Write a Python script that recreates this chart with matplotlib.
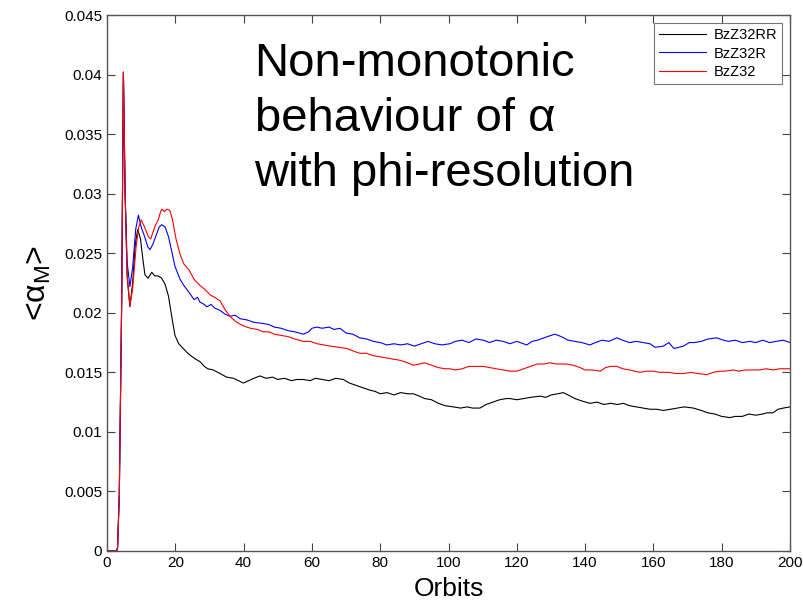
import matplotlib
matplotlib.use("Agg")
import matplotlib.pyplot as plt

plt.rcParams['font.family'] = ['Liberation Sans', 'DejaVu Sans']
plt.rcParams['mathtext.fontset'] = 'custom'
plt.rcParams['mathtext.rm'] = 'Liberation Sans'
plt.rcParams['mathtext.it'] = 'Liberation Sans'

# --- data (orbit, <alpha_M>) ---
rise_x = [0, 2.8, 3.1, 3.6, 4.3, 4.8, 5.3]
rise_y = [0, 0, 0.0003, 0.0048, 0.0211, 0.0402, 0.0300]

rr_x = [5.9, 6.7, 7.5, 8.3, 9.0, 9.8, 10.5, 11.1, 12.0, 13.1, 14.0, 15.0, 16.0, 17.0,
        18.0, 19.0, 19.9, 21.0, 22.0, 23.3, 24.5, 26.0, 27.2, 28.5, 29.5, 31.1, 33.1,
        35, 37, 38.5, 39.9, 41.5, 43, 44.8, 46.5, 48.5, 50, 52, 54, 55.5, 57.5, 59.5,
        61, 63, 65, 67, 69.2, 71, 73, 75, 77, 78.5, 80, 82, 84, 86, 88, 89.7, 91.5,
        93, 95, 97, 99, 101.4, 103.5, 105.5, 107, 109.2, 111, 113, 115, 117, 118, 120,
        122, 124, 126.8, 128.5, 130, 132, 133.6, 135, 137, 139, 141.4, 143.5, 145.5,
        147.5, 149.5, 151.2, 153, 155, 157, 159, 161, 162.9, 165, 167, 169, 171.7, 174,
        176, 178, 180, 182.4, 184, 186, 188, 190, 192, 193.2, 195, 196.5, 198, 200]
rr_y = [0.0230, 0.0205, 0.0225, 0.0258, 0.0270, 0.0262, 0.0245, 0.0232, 0.0229, 0.0234,
        0.0231, 0.0231, 0.0229, 0.0224, 0.0214, 0.0196, 0.0181, 0.0174, 0.0171, 0.0167,
        0.0164, 0.0161, 0.0159, 0.0155, 0.0153, 0.0152, 0.0149, 0.0146, 0.0145, 0.0143,
        0.0141, 0.0143, 0.0145, 0.0147, 0.0145, 0.0146, 0.0144, 0.0145, 0.0143, 0.0144,
        0.0144, 0.0143, 0.0145, 0.0144, 0.0143, 0.0145, 0.0144, 0.0141, 0.0139, 0.0137,
        0.0135, 0.0134, 0.0132, 0.0133, 0.0131, 0.0133, 0.0132, 0.0132, 0.0130, 0.0128,
        0.0127, 0.0124, 0.0122, 0.0121, 0.0120, 0.0121, 0.0120, 0.0120, 0.0123, 0.0125,
        0.0127, 0.0128, 0.0128, 0.0127, 0.0128, 0.0129, 0.0130, 0.0129, 0.0131, 0.0132,
        0.0133, 0.0131, 0.0128, 0.0126, 0.0124, 0.0125, 0.0123, 0.0124, 0.0123, 0.0124,
        0.0122, 0.0121, 0.0120, 0.0119, 0.0119, 0.0118, 0.0119, 0.0120, 0.0121, 0.0120,
        0.0118, 0.0116, 0.0115, 0.0113, 0.0112, 0.0113, 0.0113, 0.0115, 0.0114, 0.0115,
        0.0116, 0.0116, 0.0119, 0.0120, 0.0121]

r_x = [5.9, 6.7, 7.5, 8.4, 9.2, 10.0, 11.0, 12.0, 12.6, 13.5, 14.5, 15.3, 16.0, 17.0,
       18.0, 19.0, 19.9, 21.4, 22.5, 24.3, 25.5, 26.5, 27.2, 28.5, 29.2, 30.5, 31.5,
       33.1, 34.5, 36, 37.5, 39, 41, 43, 45.8, 47.5, 49, 51, 53, 55, 57.5, 59, 60,
       61.4, 63, 65, 66.5, 68.2, 70, 72, 74, 76, 78, 80, 81.9, 84, 86, 88, 90, 92, 94,
       96, 98, 100.4, 102, 104, 106, 108, 110.2, 112, 114, 116, 118, 120, 122.9, 124.5,
       126, 128, 130, 131.2, 133, 135, 137, 139, 141.4, 143, 145, 147, 149.3, 151, 153,
       155, 157, 159, 160.5, 162.9, 164.5, 166, 168.8, 170.5, 172, 174, 176, 178.5,
       180.5, 182, 184, 186, 188.3, 190, 192, 194, 196, 198, 200]
r_y = [0.0242, 0.0222, 0.0238, 0.0270, 0.0282, 0.0272, 0.0264, 0.0255, 0.0253, 0.0258,
       0.0266, 0.0272, 0.0274, 0.0272, 0.0264, 0.0251, 0.0239, 0.0228, 0.0223, 0.0216,
       0.0211, 0.0213, 0.0209, 0.0207, 0.0205, 0.0207, 0.0204, 0.0202, 0.0199, 0.0197,
       0.0198, 0.0195, 0.0194, 0.0192, 0.0191, 0.0190, 0.0188, 0.0187, 0.0185, 0.0184,
       0.0182, 0.0184, 0.0187, 0.0188, 0.0187, 0.0188, 0.0186, 0.0187, 0.0183, 0.0182,
       0.0179, 0.0178, 0.0176, 0.0175, 0.0173, 0.0174, 0.0173, 0.0174, 0.0172, 0.0174,
       0.0176, 0.0174, 0.0173, 0.0174, 0.0176, 0.0177, 0.0175, 0.0178, 0.0177, 0.0175,
       0.0177, 0.0176, 0.0174, 0.0176, 0.0173, 0.0176, 0.0177, 0.0179, 0.0181, 0.0182,
       0.0180, 0.0177, 0.0176, 0.0175, 0.0173, 0.0175, 0.0177, 0.0176, 0.0179, 0.0177,
       0.0175, 0.0176, 0.0175, 0.0174, 0.0171, 0.0172, 0.0175, 0.0170, 0.0172, 0.0175,
       0.0175, 0.0176, 0.0178, 0.0179, 0.0177, 0.0176, 0.0177, 0.0175, 0.0176, 0.0175,
       0.0177, 0.0175, 0.0176, 0.0177, 0.0175]

b_x = [5.9, 6.7, 7.5, 8.5, 9.3, 10.0, 11.0, 12.1, 12.8, 13.5, 14.1, 15.0, 15.6, 16.0,
       16.8, 17.5, 18.4, 19.2, 20.2, 21.4, 22.5, 24.0, 25.5, 27.2, 28.5, 30.2, 31.5,
       33.1, 34.5, 36, 38, 40, 42, 44, 45.8, 47.5, 49, 51, 53, 55, 57.5, 59.5, 61.5,
       63.5, 65.5, 68, 70.2, 72, 74, 76, 78, 80, 82, 84, 86, 88, 89.7, 91.5, 93, 95,
       97, 99, 100.4, 102, 104, 106, 108, 110.2, 112, 114, 116, 118, 120, 122, 124,
       126, 128, 129.7, 131.5, 133, 134.5, 136.5, 138.5, 140, 142, 144.4, 146, 147.5,
       149.3, 151, 153, 156.1, 158, 160, 162, 164.5, 166.5, 168.8, 171, 173, 175.6,
       177.5, 179.5, 181, 183.4, 185, 187, 189, 191, 193, 195, 197, 200]
b_y = [0.0232, 0.0206, 0.0220, 0.0255, 0.0272, 0.0278, 0.0272, 0.0264, 0.0262, 0.0268,
       0.0273, 0.0278, 0.0284, 0.0287, 0.0285, 0.0287, 0.0286, 0.0278, 0.0262, 0.0249,
       0.0241, 0.0236, 0.0228, 0.0223, 0.0220, 0.0215, 0.0213, 0.0210, 0.0203, 0.0197,
       0.0192, 0.0189, 0.0187, 0.0186, 0.0184, 0.0184, 0.0182, 0.0181, 0.0180, 0.0178,
       0.0176, 0.0176, 0.0174, 0.0173, 0.0172, 0.0171, 0.0170, 0.0168, 0.0166, 0.0166,
       0.0164, 0.0163, 0.0162, 0.0161, 0.0160, 0.0158, 0.0156, 0.0157, 0.0158, 0.0156,
       0.0154, 0.0153, 0.0153, 0.0152, 0.0153, 0.0155, 0.0155, 0.0155, 0.0154, 0.0153,
       0.0152, 0.0151, 0.0151, 0.0153, 0.0155, 0.0157, 0.0157, 0.0158, 0.0157, 0.0157,
       0.0157, 0.0156, 0.0154, 0.0152, 0.0152, 0.0151, 0.0154, 0.0155, 0.0155, 0.0153,
       0.0152, 0.0150, 0.0151, 0.0151, 0.0150, 0.0150, 0.0149, 0.0149, 0.0150, 0.0149,
       0.0148, 0.0150, 0.0151, 0.0151, 0.0152, 0.0151, 0.0152, 0.0152, 0.0152, 0.0153,
       0.0152, 0.0153, 0.0153]

labels = ['BzZ32RR', 'BzZ32R', 'BzZ32']
colors = ['black', '#0000ff', '#ff0000']

fig = plt.figure(figsize=(8.04, 6.01), dpi=100)
ax = fig.add_axes([0.1331, 0.0832, 0.8495, 0.8918])

series = [(rr_x, rr_y), (r_x, r_y), (b_x, b_y)]
for (sx, sy), lab, col in zip(series, labels, colors):
    ax.plot(rise_x + sx, rise_y + sy, color=col, linewidth=0.8, label=lab)

ax.set_xlim(0, 200)
ax.set_ylim(0, 0.045)
ax.set_xticks(range(0, 201, 20))
ax.set_yticks([i * 0.005 for i in range(10)])
ax.set_yticklabels(['0', '0.005', '0.01', '0.015', '0.02', '0.025', '0.03',
                    '0.035', '0.04', '0.045'])
ax.tick_params(direction='in', top=True, right=True, length=6, width=0.8,
               labelsize=11, color='#444444')
for sp in ax.spines.values():
    sp.set_color('#555555')
    sp.set_linewidth(1.0)

ax.set_xlabel('Orbits', fontsize=19, labelpad=5)
ax.set_ylabel(r'<$\alpha_{\mathrm{M}}$>', fontsize=23, labelpad=8)

ax.text(0.216, 0.950, 'Non-monotonic\nbehaviour of α\nwith phi-resolution',
        transform=ax.transAxes, fontsize=34, va='top', ha='left',
        linespacing=1.33)

leg = ax.legend(loc='upper right', fontsize=10.5, frameon=True, fancybox=False,
                borderaxespad=0.55, handlelength=3.2, handletextpad=0.5,
                labelspacing=0.3, borderpad=0.35)
leg.get_frame().set_edgecolor('#555555')
leg.get_frame().set_linewidth(0.8)

fig.savefig('out.png', dpi=100)
